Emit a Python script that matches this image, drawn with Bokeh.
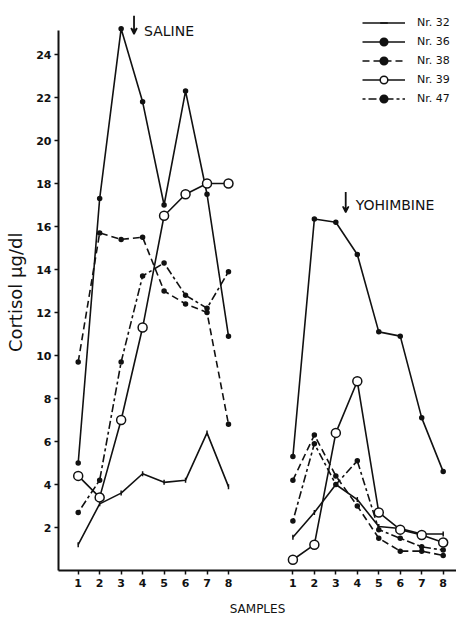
from bokeh.plotting import figure
from bokeh.models import FixedTicker, Legend, LegendItem, Arrow, VeeHead, Label, Range1d
from bokeh.embed import file_html
from bokeh.resources import INLINE

# ---- data -------------------------------------------------------------
samples = [1, 2, 3, 4, 5, 6, 7, 8]
yohimbine_shift = 10          # second block of samples drawn to the right
y_ticks = [2, 4, 6, 8, 10, 12, 14, 16, 18, 20, 22, 24]

saline_32 = [1.2, 3.1, 3.6, 4.5, 4.1, 4.2, 6.4, 3.9]
saline_36 = [5.0, 17.3, 25.2, 21.8, 17.0, 22.3, 17.5, 10.9]
saline_38 = [9.7, 15.7, 15.4, 15.5, 13.0, 12.4, 12.0, 6.8]
saline_39 = [4.4, 3.4, 7.0, 11.3, 16.5, 17.5, 18.0, 18.0]
saline_47 = [2.7, 4.2, 9.7, 13.7, 14.3, 12.8, 12.2, 13.9]

yohimbine_32 = [1.55, 2.7, 4.0, 3.3, 2.05, 1.95, 1.7, 1.7]
yohimbine_36 = [5.3, 16.35, 16.2, 14.7, 11.1, 10.9, 7.1, 4.6]
yohimbine_38 = [4.2, 6.3, 4.4, 3.0, 1.5, 0.9, 0.9, 0.7]
yohimbine_39 = [0.5, 1.2, 6.4, 8.8, 2.7, 1.9, 1.65, 1.3]
yohimbine_47 = [2.3, 5.9, 4.0, 5.1, 1.9, 1.5, 1.1, 0.95]

animals = ["Nr. 32", "Nr. 36", "Nr. 38", "Nr. 39", "Nr. 47"]
saline_values = [saline_32, saline_36, saline_38, saline_39, saline_47]
yohimbine_values = [yohimbine_32, yohimbine_36, yohimbine_38, yohimbine_39, yohimbine_47]

# ---- styles -----------------------------------------------------------
INK = "#111111"
styles = {
    "Nr. 32": dict(dash="solid", marker="dash", size=5, fill=INK, angle=1.5708),
    "Nr. 36": dict(dash="solid", marker="circle", size=4, fill=INK, angle=0),
    "Nr. 38": dict(dash="7 4", marker="circle", size=4, fill=INK, angle=0),
    "Nr. 39": dict(dash="solid", marker="circle", size=9, fill="white", angle=0),
    "Nr. 47": dict(dash="3 3 8 3", marker="circle", size=4, fill=INK, angle=0),
}
FONT = "DejaVu Sans"

x_left = (62 - 81.7) / 21.47 + 1
x_right = x_left + 398 / 21.47
p = figure(width=456, height=620, output_backend="svg", toolbar_location=None,
           x_range=Range1d(x_left, x_right), y_range=Range1d(0, 562 / 21.5),
           min_border_left=58, min_border_right=0, min_border_top=8, min_border_bottom=50)
p.outline_line_color = None
p.grid.visible = False
p.background_fill_color = "white"

legend_items = []
x_sal = samples
x_yoh = [s + yohimbine_shift for s in samples]
for name, sv, yv in zip(animals, saline_values, yohimbine_values):
    st = styles[name]
    rends = []
    for xs, ys in ((x_sal, sv), (x_yoh, yv)):
        ln = p.line(xs, ys, line_color=INK, line_width=1.6, line_dash=st["dash"])
        sc = p.scatter(xs, ys, marker=st["marker"], size=st["size"], angle=st["angle"],
                       line_color=INK, fill_color=st["fill"], line_width=1.5)
        rends.append((ln, sc))
    legend_items.append(LegendItem(label=name, renderers=[rends[0][0], rends[0][1]]))

legend = Legend(items=legend_items, location=(304, 462), padding=0, margin=0,
                spacing=0, glyph_width=43, glyph_height=19, label_height=19,
                label_standoff=12, border_line_color=None, background_fill_alpha=0,
                label_text_font=FONT, label_text_font_size="11px",
                label_text_font_style="normal", label_text_color=INK)
p.add_layout(legend, "center")

# axes
xa = p.xaxis[0]
xa.ticker = FixedTicker(ticks=x_sal + x_yoh)
xa.major_label_overrides = {x: str(s) for x, s in zip(x_yoh, samples)}
xa.major_label_overrides.update({x: str(s) for x, s in zip(x_sal, samples)})
xa.major_label_standoff = 4
xa.axis_label = "SAMPLES"
xa.axis_label_text_font = FONT
xa.axis_label_text_font_style = "normal"
xa.axis_label_text_font_size = "12px"
xa.axis_label_standoff = 12

ya = p.yaxis[0]
ya.ticker = FixedTicker(ticks=y_ticks)
ya.bounds = (0, 25.1)
ya.axis_label = "Cortisol  μg/dl"
ya.axis_label_text_font = FONT
ya.axis_label_text_font_style = "normal"
ya.axis_label_text_font_size = "18px"
ya.axis_label_standoff = 7
ya.major_label_standoff = 3

for ax in (xa, ya):
    ax.axis_line_width = 2
    ax.axis_line_color = INK
    ax.major_tick_in = 0
    ax.major_tick_out = 4
    ax.major_tick_line_color = INK
    ax.major_tick_line_width = 1.5
    ax.minor_tick_line_color = None
    ax.major_label_text_font = FONT
    ax.major_label_text_font_size = "11px"
    ax.major_label_text_font_style = "bold"
    ax.major_label_text_color = INK
    ax.axis_label_text_color = INK

# treatment markers
for x0, y0, y1, txt, yt in ((3.6, 25.8, 24.95, "SALINE", 25.1),
                            (13.46, 17.6, 16.65, "YOHIMBINE", 17.0)):
    p.add_layout(Arrow(end=VeeHead(size=6, line_color=INK, fill_color=INK, line_width=1.5),
                       x_start=x0, y_start=y0, x_end=x0, y_end=y1,
                       line_color=INK, line_width=1.8))
    p.add_layout(Label(x=x0, y=yt, x_offset=10, text=txt, text_baseline="middle",
                       text_font=FONT, text_font_size="14px", text_color=INK))

open("out.html", "w").write(file_html(p, INLINE))
